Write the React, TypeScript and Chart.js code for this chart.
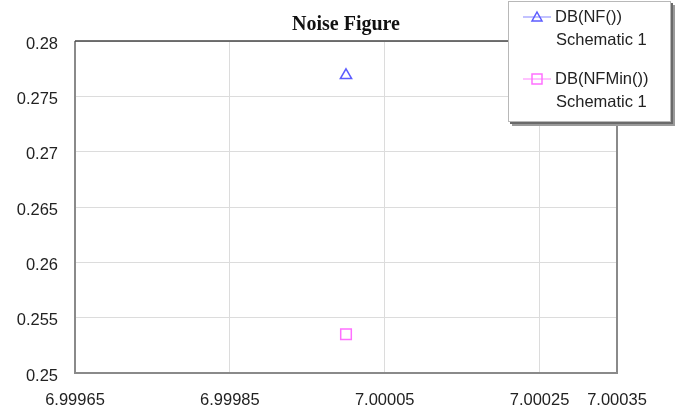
import React, { useEffect, useRef } from "react";
import { Chart, registerables } from "chart.js";

Chart.register(...registerables);

const xTicks = [6.99965, 6.99985, 7.00005, 7.00025, 7.00035];
const xTickLabels = ["6.99965", "6.99985", "7.00005", "7.00025", "7.00035"];
const yTicks = [0.25, 0.255, 0.26, 0.265, 0.27, 0.275, 0.28];
const yTickLabels = ["0.25", "0.255", "0.26", "0.265", "0.27", "0.275", "0.28"];

const seriesNames = ["DB(NF())", "DB(NFMin())"];
const seriesSub = ["Schematic 1", "Schematic 1"];
const nfX = [7.0];
const nfY = [0.2769];
const nfMinX = [7.0];
const nfMinY = [0.2535];

const AXIS_FONT = "'Liberation Sans', Arial, sans-serif";

const legendPlugin = {
  id: "customLegend",
  afterDraw(chart: any) {
    const ctx = chart.ctx as CanvasRenderingContext2D;
    const a = chart.chartArea;
    ctx.save();
    // plot borders
    ctx.strokeStyle = "#8a8a8a";
    ctx.lineWidth = 2;
    ctx.beginPath();
    ctx.moveTo(a.left, a.top);
    ctx.lineTo(a.left, a.bottom);
    ctx.lineTo(a.right, a.bottom);
    ctx.lineTo(a.right, a.top);
    ctx.stroke();
    ctx.strokeStyle = "#444";
    ctx.lineWidth = 1.5;
    ctx.beginPath();
    ctx.moveTo(a.left, a.top);
    ctx.lineTo(a.right, a.top);
    ctx.stroke();

    // legend box
    const bx = 508, by = 1, bw = 163, bh = 121;
    ctx.fillStyle = "#9a9a9a";
    ctx.fillRect(bx + 4, by + 4, bw, bh);
    ctx.fillStyle = "#6a6a6a";
    ctx.fillRect(bx + 2, by + 2, bw, bh);
    ctx.fillStyle = "#ffffff";
    ctx.fillRect(bx, by, bw, bh);
    ctx.strokeStyle = "#b8b8b8";
    ctx.lineWidth = 1;
    ctx.strokeRect(bx + 0.5, by + 0.5, bw - 1, bh - 1);

    const rowY = [17, 79];
    chart.data.datasets.forEach((ds: any, i: number) => {
      const y = rowY[i];
      ctx.strokeStyle = ds.legendLine;
      ctx.lineWidth = 1.2;
      ctx.beginPath();
      ctx.moveTo(523, y);
      ctx.lineTo(551, y);
      ctx.stroke();
      ctx.strokeStyle = ds.borderColor;
      ctx.lineWidth = 1.5;
      ctx.beginPath();
      if (ds.pointStyle === "triangle") {
        ctx.moveTo(537, y - 5);
        ctx.lineTo(542, y + 4);
        ctx.lineTo(532, y + 4);
        ctx.closePath();
      } else {
        ctx.rect(532, y - 5, 10, 10);
      }
      ctx.stroke();
      ctx.fillStyle = "#222";
      ctx.font = `16.5px ${AXIS_FONT}`;
      ctx.textBaseline = "middle";
      ctx.textAlign = "left";
      ctx.fillText(seriesNames[i], 555, y);
      ctx.fillText(seriesSub[i], 556, y + 23);
    });
    ctx.restore();
  },
};

export default function App() {
  const ref = useRef<HTMLCanvasElement>(null);
  useEffect(() => {
    if (!ref.current) return;
    const chart = new Chart(ref.current, {
      type: "scatter",
      data: {
        datasets: [
          {
            label: seriesNames[0],
            data: nfX.map((x, i) => ({ x, y: nfY[i] })),
            pointStyle: "triangle",
            pointRadius: 6.5,
            borderColor: "#5c5cff",
            backgroundColor: "rgba(0,0,0,0)",
            borderWidth: 1.5,
            legendLine: "#9a9aff",
          } as any,
          {
            label: seriesNames[1],
            data: nfMinX.map((x, i) => ({ x, y: nfMinY[i] })),
            pointStyle: "rect",
            pointRadius: 7.5,
            borderColor: "#ff70ff",
            backgroundColor: "rgba(0,0,0,0)",
            borderWidth: 1.5,
            legendLine: "#ff99ff",
          } as any,
        ],
      },
      options: {
        animation: false,
        responsive: true,
        maintainAspectRatio: false,
        layout: { padding: { left: 0, right: 64, top: 0, bottom: 0 } },
        plugins: {
          legend: { display: false },
          tooltip: { enabled: false },
          title: {
            display: true,
            text: "Noise Figure",
            fullSize: false,
            color: "#111",
            font: { family: "'Liberation Serif', 'Times New Roman', serif", size: 20, weight: "bold" },
            padding: { top: 13, bottom: 4 },
          },
        },
        scales: {
          x: {
            type: "linear",
            min: xTicks[0],
            max: xTicks[xTicks.length - 1],
            afterBuildTicks: (s: any) => {
              s.ticks = xTicks.map((v) => ({ value: v }));
            },
            afterFit: (s: any) => {
              s.height = 41;
            },
            ticks: {
              autoSkip: false,
              maxRotation: 0,
              padding: 18,
              color: "#222",
              font: { family: AXIS_FONT, size: 16.5 },
              callback: (_v: any, i: number) => xTickLabels[i],
            },
            grid: { color: "#dcdcdc", lineWidth: 1, drawTicks: false },
            border: { display: false },
          },
          y: {
            type: "linear",
            min: yTicks[0],
            max: yTicks[yTicks.length - 1],
            afterBuildTicks: (s: any) => {
              s.ticks = yTicks.map((v) => ({ value: v }));
            },
            afterFit: (s: any) => {
              s.width = 75;
            },
            ticks: {
              autoSkip: false,
              padding: 17,
              labelOffset: 3,
              color: "#222",
              font: { family: AXIS_FONT, size: 16.5 },
              callback: (_v: any, i: number) => yTickLabels[i],
            },
            grid: { color: "#dcdcdc", lineWidth: 1, drawTicks: false },
            border: { display: false },
          },
        },
      },
      plugins: [legendPlugin],
    });
    return () => chart.destroy();
  }, []);
  return (
    <div style={{ position: "fixed", left: 0, top: 0, width: 681, height: 414, background: "#fff" }}>
      <canvas ref={ref} />
    </div>
  );
}
